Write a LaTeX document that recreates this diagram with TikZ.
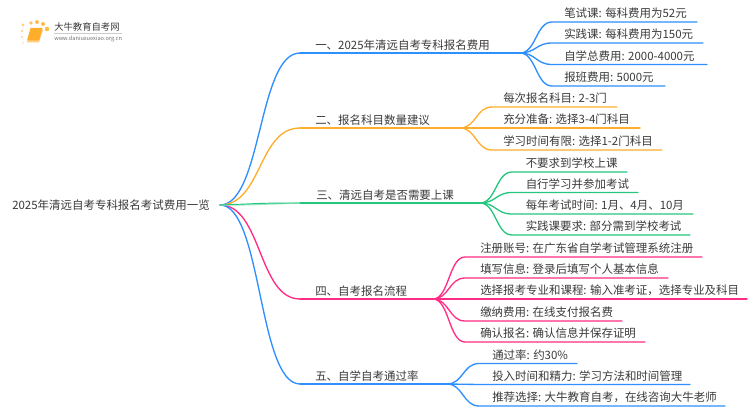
\documentclass[tikz,border=0pt]{standalone}
\usepackage{fontspec}
\setmainfont{Noto Sans CJK SC}
\usetikzlibrary{calc}
\definecolor{cblue}{HTML}{2E8FFF}
\definecolor{corange}{HTML}{FFAE2B}
\definecolor{cgreen}{HTML}{25C77F}
\definecolor{cpink}{HTML}{FF2D85}
\definecolor{ctext}{HTML}{3A3A3A}
\tikzset{
 lbl/.style={anchor=west,inner sep=0pt,text=ctext,font=\fontsize{8.6pt}{10pt}\selectfont},
 link/.style={line width=1pt,line cap=round},
}
\newcommand{\rootlink}[2]{\draw[link,#1] (root) .. controls +(42,0) and +(-42,0) .. (#2);}
\newcommand{\leaf}[7]{% color, junction, name, y, end x, text x offset, text
 \coordinate (#3y) at (0,#4);
 \coordinate (#3k) at ($(#2)+(32,0)$);
 \coordinate (#3m) at ($(#2)+(#6,0)$);
 \coordinate (#3t) at (0,#4-8.5);
 \coordinate (#3c) at (#3k |- #3y);
 \coordinate (#3e) at (#5,#4);
 \draw[link,#1] (#2) .. controls +(16,0) and +(-16,0) .. (#3c) -- (#3e);
 \node[lbl] (#3) at (#3m |- #3t) {#7};}
\begin{document}
\begin{tikzpicture}[x=0.75pt,y=-0.75pt]
\useasboundingbox (0,0) rectangle (750,410);
\fill[white] (0,0) rectangle (750,410);
% logo
\foreach \a/\b/\r/\o in {23/43/1/35,22/37/1.2/45,22/31/1.4/50,23/25/1.6/60,31/23/1.9/75,37/22/2/80,43/24/2/85,47/29/2.3/85}{\fill[corange,opacity=\o/100] (\a,\b) circle[radius=\r];}
\fill[corange!60!white] (27,42.5) -- (39,42.5) -- (43,30) -- (31,30) -- cycle;
\fill[corange] (27,40.5) -- (30.5,28) -- (42.5,28) -- (39,40.5) -- cycle;
\node[inner sep=0pt,anchor=west,text=ctext,font=\fontsize{7pt}{8pt}\selectfont] (logot) at (54,27) {大牛教育自考网};
\coordinate (logoa) at (54,33.5);\coordinate (logob) at (122,33.5);
\draw[black!20,line width=0.4pt] (logoa) -- (logob);
\node[inner sep=0pt,anchor=west,text=black!55,font=\fontsize{4.2pt}{5pt}\selectfont] (logou) at (54,38.5) {www.daniuxuexiao.org.cn};
% root
\coordinate (root) at (220,205);
\node[lbl] (rootl) at (12,205.5) {2025年清远自考专科报名考试费用一览};
% main branches
\coordinate (b1) at (300,53);\coordinate (b2) at (300,128);\coordinate (b3) at (300,203);\coordinate (b4) at (300,299);\coordinate (b5) at (300,384);
\coordinate (j1) at (520,53);\coordinate (j2) at (460,128);\coordinate (j3) at (480,203);\coordinate (j4) at (433,299);\coordinate (j5) at (447,384);
\rootlink{cblue}{b1}
\rootlink{corange}{b2}
\rootlink{cpink}{b4}
\rootlink{cblue}{b5}
\draw[line width=1pt,cgreen!45] (root) .. controls +(20,0.5) and +(-20,0.5) .. (b3);
\draw[line width=0.7pt,cgreen] (root) .. controls +(42,-1.5) and +(-42,0) .. (b3);
\draw[link,cblue] (b1) -- (j1);
\draw[link,corange] (b2) -- (j2);
\draw[link,cgreen] (b3) -- (j3);
\draw[link,cpink] (b4) -- (j4);
\draw[link,cblue] (b5) -- (j5);
\node[lbl] (m1) at (315,45.5) {一、2025年清远自考专科报名费用};
\node[lbl] (m2) at (315,120.5) {二、报名科目数量建议};
\node[lbl] (m3) at (316,195.5) {三、清远自考是否需要上课};
\node[lbl] (m4) at (315,291.5) {四、自考报名流程};
\node[lbl] (m5) at (315,376.5) {五、自学自考通过率};
% leaves
\leaf{cblue}{j1}{a}{22}{697}{44}{笔试课: 每科费用为52元}
\leaf{cblue}{j1}{b}{43}{703}{44}{实践课: 每科费用为150元}
\leaf{cblue}{j1}{c}{64.5}{707}{44}{自学总费用: 2000-4000元}
\leaf{cblue}{j1}{d}{86}{665}{44}{报班费用: 5000元}
\leaf{corange}{j2}{e}{107}{617}{43}{每次报名科目: 2-3门}
\leaf{corange}{j2}{f}{128}{640}{43}{充分准备: 选择3-4门科目}
\leaf{corange}{j2}{g}{150}{662}{43}{学习时间有限: 选择1-2门科目}
\leaf{cgreen}{j3}{h}{172}{627}{45.5}{不要求到学校上课}
\leaf{cgreen}{j3}{i}{192.5}{638}{45.5}{自行学习并参加考试}
\leaf{cgreen}{j3}{k}{214}{693}{45.5}{每年考试时间: 1月、4月、10月}
\leaf{cgreen}{j3}{l}{235}{690}{45.5}{实践课要求: 部分需到学校考试}
\leaf{cpink}{j4}{n}{257}{702}{47}{注册账号: 在广东省自学考试管理系统注册}
\leaf{cpink}{j4}{o}{278}{668}{47}{填写信息: 登录后填写个人基本信息}
\leaf{cpink}{j4}{p}{299}{747}{47}{选择报考专业和课程: 输入准考证，选择专业及科目}
\leaf{cpink}{j4}{q}{321}{622}{47}{缴纳费用: 在线支付报名费}
\leaf{cpink}{j4}{r}{342}{645}{47}{确认报名: 确认信息并保存证明}
\leaf{cblue}{j5}{s}{363.5}{577}{45}{通过率: 约30\%}
\leaf{cblue}{j5}{t}{384.5}{690}{45}{投入时间和精力: 学习方法和时间管理}
\leaf{cblue}{j5}{u}{406}{725}{45}{推荐选择: 大牛教育自考，在线咨询大牛老师}
\end{tikzpicture}
\end{document}
